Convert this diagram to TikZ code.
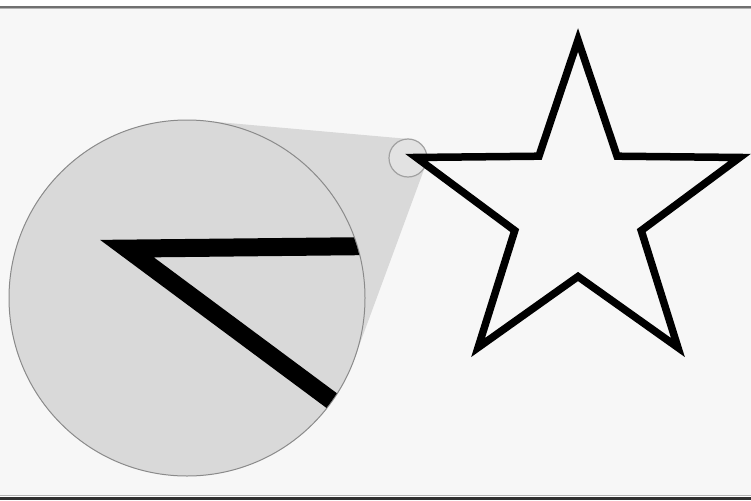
\documentclass[tikz,border=0pt]{standalone}
\usetikzlibrary{calc}
\definecolor{bg}{HTML}{F7F7F7}
\definecolor{lensfill}{HTML}{D9D9D9}
\definecolor{lensline}{HTML}{8A8A8A}
\definecolor{rimtop}{HTML}{707070}
\definecolor{rimlight}{HTML}{B4B4B4}
\definecolor{rimdark}{HTML}{303030}
\def\starshape{(-90:170) -- (-126:66.5) -- (-162:170) -- (-198:66.5) -- (-234:170) -- (-270:66.5) -- (-306:170) -- (-342:66.5) -- (-18:170) -- (-54:66.5) -- cycle}
\begin{document}
\begin{tikzpicture}[x=1pt,y=-1pt,
  starline/.style={line width=7.5pt, line join=miter, miter limit=10},
  bigline/.style={line width=18pt, line join=miter, miter limit=10},
  lens/.style={fill=lensfill, draw=lensline, line width=1pt},
  smalllens/.style={fill=lensfill!70!bg, draw=lensline!80, line width=1.2pt}]
\useasboundingbox (0,0) rectangle (751,500);
\fill[white] (0,0) rectangle (751,500);
\fill[bg] (0,8) rectangle (751,496);
\draw[rimtop, line width=1.5pt] (0,7.2) -- (751,7.2);
\draw[rimlight, line width=1pt] (0,8.8) -- (751,8.8);
\draw[rimlight, line width=1pt] (0,495.3) -- (751,495.3);
\fill[rimdark] (0,496.8) rectangle (751,500);
% lens geometry
\coordinate (C) at (187,298);
\coordinate (c) at (408,158);
\coordinate (t1) at ($(C)+(-84.92:178)$);
\coordinate (t2) at ($(C)+(20.22:178)$);
\coordinate (s1) at ($(c)+(-84.92:19)$);
\coordinate (s2) at ($(c)+(20.22:19)$);
\fill[lensfill] (t1) -- (s1) -- (s2) -- (t2) -- cycle;
\draw[lens] (C) circle[radius=178];
\begin{scope}
  \clip (C) circle[radius=177.5];
  \begin{scope}[shift={(612,406.2)}, scale=3]
    \draw[bigline] \starshape;
  \end{scope}
\end{scope}
\draw[smalllens] (c) circle[radius=19];
% star
\begin{scope}[shift={(578,210)}]
  \draw[starline] \starshape;
\end{scope}
\end{tikzpicture}
\end{document}
